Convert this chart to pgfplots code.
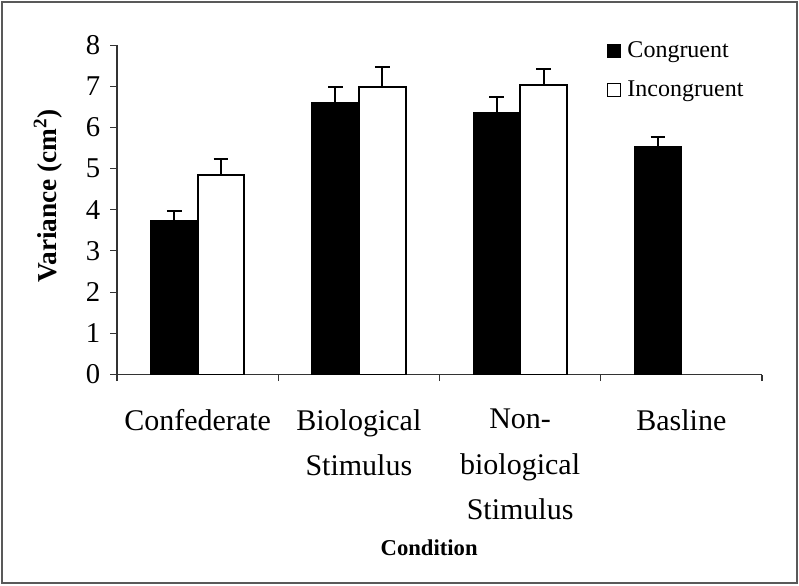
\documentclass[border=0pt]{standalone}
\usepackage{pgfplots}
\pgfplotsset{compat=1.18}
\usepackage{fontspec}
\setmainfont{Liberation Serif}
\begin{document}
\begin{tikzpicture}
\useasboundingbox (-87.75pt,-157.875pt) rectangle (511.5pt,280.875pt);
\draw[black!65, line width=1.3pt] (-86.25pt,-156.375pt) rectangle (510pt,279.375pt);
\begin{axis}[
  at={(0pt,0pt)}, anchor=south west,
  scale only axis,
  width=483.75pt, height=247.1pt,
  xmin=-0.5, xmax=3.5, ymin=0, ymax=8,
  axis x line*=bottom, axis y line*=left,
  axis line style={black!80, line width=0.8pt},
  tick style={black!80, line width=0.8pt},
  tick align=outside,
  major tick length=5pt,
  ytick={0,1,...,8},
  /pgf/number format/assume math mode=true,
  yticklabel style={font=\fontsize{21.5}{22}\selectfont, anchor=east, xshift=-4pt},
  xtick={-0.5,0.5,1.5,2.5,3.5},
  xticklabels={},
  extra x ticks={0,1,2,3},
  extra x tick labels={Confederate,{Biological\\Stimulus},{Non-\\biological\\Stimulus},Basline},
  extra x tick style={major tick length=0pt, tick label style={font=\fontsize{22.5}{34}\selectfont, align=center, anchor=north, yshift=-22.5pt}},
  ylabel={\textbf{Variance (cm\textsuperscript{2})}},
  ylabel style={font=\fontsize{20.5}{22}\selectfont, at={(axis description cs:-0.107,0.542)}, anchor=center, rotate=0},
  xlabel={\textbf{Condition}},
  xlabel style={font=\fontsize{17}{20}\selectfont, at={(axis description cs:0.484,-0.527)}, anchor=center},
  ybar, bar width=0.29,
  legend style={draw=none, fill=none, at={(axis description cs:0.759,1.018)}, anchor=north west,
    font=\fontsize{18}{20}\selectfont, legend cell align=left, row sep=12pt,
    inner sep=0pt, nodes={inner xsep=5pt}},
  legend image code/.code={\draw[#1, line width=0.9pt] (0pt,-4.8pt) rectangle (9.6pt,4.8pt);},
  error bars/y dir=plus, error bars/y explicit,
  error bars/error bar style={black, line width=1.5pt},
  error bars/error mark options={rotate=90, mark size=5.5pt, line width=1.5pt, black},
]
\addplot[fill=black, draw=black, line width=1pt, bar shift=-0.145] coordinates {
  (0,3.73) +- (0,0.24)
  (1,6.61) +- (0,0.37)
  (2,6.36) +- (0,0.38)
  (3,5.53) +- (0,0.24)
};
\addlegendentry{Congruent}
\addplot[fill=white, draw=black, line width=1.5pt, bar shift=0.145] coordinates {
  (0,4.84) +- (0,0.40)
  (1,6.99) +- (0,0.48)
  (2,7.02) +- (0,0.39)
};
\addlegendentry{Incongruent}
\end{axis}
\end{tikzpicture}
\end{document}
